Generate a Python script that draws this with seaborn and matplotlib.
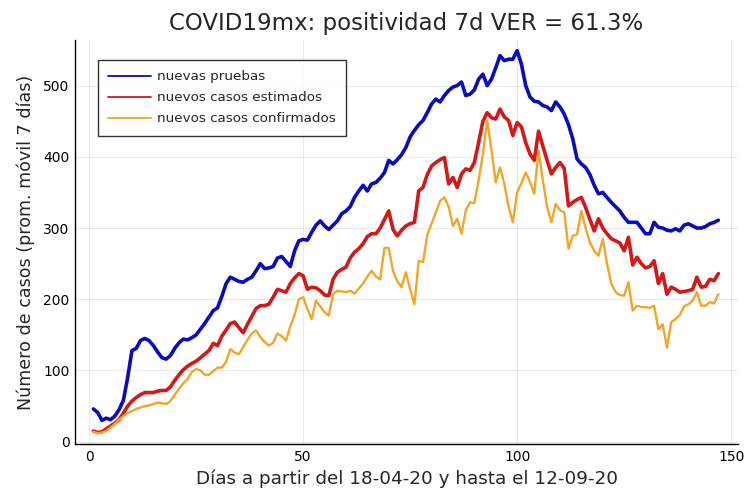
import numpy as np
import pandas as pd
import matplotlib
matplotlib.use("Agg")
import matplotlib.pyplot as plt
import seaborn as sns

# promedio móvil de 7 días (días 1..147)
dias = list(range(1, 148))

nuevas_pruebas = [
    46, 41, 30, 33, 31, 36, 45, 58, 90, 128,
    131, 142, 145, 142, 135, 126, 118, 116, 121, 131,
    139, 144, 143, 146, 150, 158, 166, 175, 184, 188,
    204, 222, 231, 228, 225, 224, 228, 231, 240, 250,
    243, 244, 246, 258, 260, 253, 246, 268, 282, 284,
    283, 294, 304, 310, 303, 298, 304, 310, 320, 324,
    330, 343, 352, 360, 352, 362, 364, 370, 378, 395,
    390, 396, 403, 413, 428, 437, 445, 451, 462, 474,
    481, 477, 486, 493, 498, 500, 505, 486, 488, 494,
    509, 516, 500, 509, 525, 542, 535, 537, 537, 549,
    530, 500, 484, 478, 477, 472, 470, 465, 477, 470,
    460, 445, 425, 397, 390, 385, 375, 360, 348, 350,
    343, 336, 330, 324, 315, 308, 308, 308, 300, 292,
    292, 308, 301, 300, 297, 296, 299, 296, 304, 306,
    303, 300, 300, 302, 306, 308, 311,
]

casos_estimados = [
    15, 13, 14, 18, 22, 26, 31, 40, 50, 57,
    62, 66, 69, 69, 69, 71, 72, 72, 77, 86,
    94, 101, 106, 110, 113, 118, 123, 128, 138, 135,
    148, 157, 166, 168, 160, 153, 165, 176, 187, 191,
    191, 193, 203, 214, 212, 210, 222, 230, 236, 233,
    214, 217, 216, 212, 206, 205, 228, 238, 242, 245,
    258, 266, 271, 278, 288, 292, 292, 300, 312, 324,
    298, 289, 297, 303, 306, 308, 352, 357, 375, 387,
    392, 396, 399, 362, 371, 357, 376, 383, 381, 392,
    420, 450, 462, 455, 453, 467, 456, 451, 430, 448,
    442, 420, 404, 395, 436, 415, 395, 376, 385, 392,
    384, 331, 336, 340, 343, 329, 312, 296, 313, 300,
    292, 285, 282, 279, 268, 287, 248, 259, 250, 244,
    246, 254, 222, 236, 207, 217, 214, 210, 211, 212,
    214, 231, 217, 218, 228, 226, 236,
]

casos_confirmados = [
    14, 12, 13, 15, 20, 25, 31, 36, 40, 43,
    46, 48, 50, 51, 53, 55, 54, 53, 57, 66,
    74, 82, 88, 98, 102, 100, 94, 94, 99, 104,
    104, 112, 130, 125, 123, 133, 143, 152, 156, 147,
    140, 135, 139, 152, 148, 142, 162, 178, 200, 203,
    186, 172, 198, 190, 182, 177, 207, 212, 211, 210,
    212, 208, 215, 222, 232, 240, 232, 228, 272, 272,
    240, 225, 217, 238, 214, 193, 254, 252, 290, 306,
    322, 338, 343, 330, 303, 313, 292, 325, 336, 335,
    367, 404, 451, 409, 364, 385, 362, 330, 308, 350,
    363, 378, 365, 348, 409, 367, 330, 308, 334, 325,
    322, 271, 289, 291, 324, 300, 280, 268, 261, 285,
    250, 222, 210, 206, 205, 224, 184, 191, 189, 189,
    188, 191, 158, 165, 132, 168, 172, 178, 190, 193,
    198, 210, 191, 191, 196, 194, 207,
]

etiquetas = ["nuevas pruebas", "nuevos casos estimados", "nuevos casos confirmados"]
colores = ["#0a0ac0", "#d41818", "#f2a52a"]
grosores = [2.6, 2.6, 1.7]

sns.set_theme(style="white")
plt.rcParams["font.family"] = ["DejaVu Sans"]

fig = plt.figure(figsize=(7.5, 4.99), dpi=100)
ax = fig.add_axes([75 / 750, (499 - 444) / 499, (738 - 75) / 750, (444 - 40) / 499])

series = [nuevas_pruebas, casos_estimados, casos_confirmados]
for valores, nombre, color, lw in zip(series, etiquetas, colores, grosores):
    sns.lineplot(x=dias, y=valores, color=color, linewidth=lw, label=nombre, ax=ax)

ax.set_xlim(-3.3, 151.6)
ax.set_ylim(-3.2, 564)
ax.set_xticks([0, 50, 100, 150])
ax.set_yticks([0, 100, 200, 300, 400, 500])
ax.grid(True, color="#000000", alpha=0.08, linewidth=0.8)

for lado in ["top", "right"]:
    ax.spines[lado].set_visible(False)
for lado in ["left", "bottom"]:
    ax.spines[lado].set_color("black")
    ax.spines[lado].set_linewidth(1.0)

ax.tick_params(direction="in", length=4, width=1, colors="black", labelsize=10, pad=4)

ax.set_title("COVID19mx: positividad 7d VER = 61.3%", fontsize=16.5, pad=7)
ax.set_xlabel("Días a partir del 18-04-20 y hasta el 12-09-20", fontsize=13.2, labelpad=4)
ax.set_ylabel("Número de casos (prom. móvil 7 días)", fontsize=12.6, labelpad=6)

leg = ax.legend(loc="upper left", bbox_to_anchor=(0.035, 0.95), borderaxespad=0,
                frameon=True, fancybox=False, fontsize=9.7, handlelength=3.2,
                borderpad=0.75, labelspacing=0.6, handletextpad=0.45)
leg.get_frame().set_edgecolor("black")
leg.get_frame().set_linewidth(1.0)
for linea in leg.get_lines():
    linea.set_linewidth(1.3)

fig.savefig("out.png", dpi=100)
